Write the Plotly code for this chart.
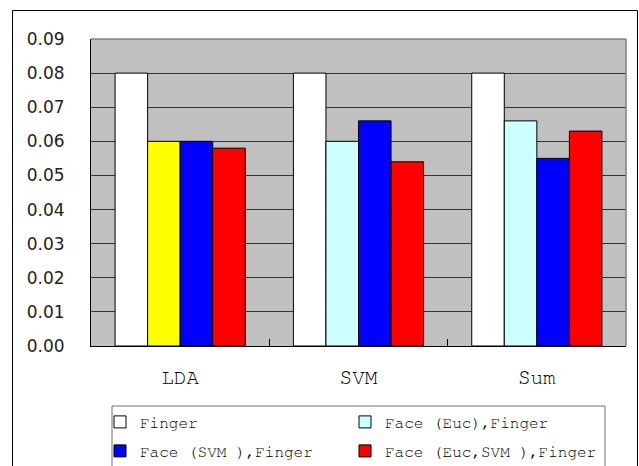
import plotly.graph_objects as go

# ---- data ----
categories = ["LDA", "SVM", "Sum"]
series_names = ["Finger", "Face (Euc),Finger", "Face (SVM ),Finger", "Face (Euc,SVM ),Finger"]
finger = [0.080, 0.080, 0.080]
face_euc = [0.060, 0.060, 0.066]
face_svm = [0.060, 0.066, 0.055]
face_euc_svm = [0.058, 0.054, 0.063]
series_colors = ["#FFFFFF", "#CCFFFF", "#0000FF", "#FF0000"]
lda_highlight_color = "#FFFF00"   # the LDA bar of "Face (Euc),Finger" is drawn yellow
y_ticks = [0.00, 0.01, 0.02, 0.03, 0.04, 0.05, 0.06, 0.07, 0.08, 0.09]

W, H = 639, 466
L, R, T, B = 91, 13, 39, 120
pw, ph = W - L - R, H - T - B

def px_x(x):
    return (x - L) / pw

def px_y(y):
    return (H - B - y) / ph

fig = go.Figure()

series_values = [finger, face_euc, face_svm, face_euc_svm]
legend_ids = ["legend", "legend2", "legend3", "legend4"]
for i, (name, vals, col) in enumerate(zip(series_names, series_values, series_colors)):
    if i == 1:
        # put a cyan bar first so the legend swatch uses the series colour
        xs = categories[1:] + categories[:1]
        ys = vals[1:] + vals[:1]
        cols = [col, col, lda_highlight_color]
    else:
        xs = categories
        ys = vals
        cols = col
    fig.add_trace(go.Bar(
        x=xs, y=ys, name=name,
        marker=dict(color=cols, line=dict(color="#000000", width=1)),
        legend=legend_ids[i], showlegend=True,
    ))

mono = "FreeMono, Courier New, monospace"
legend_font = dict(family=mono, size=16, color="#000000")

def leg(xpx, ypx):
    return dict(orientation="v", x=px_x(xpx), y=px_y(ypx), xanchor="left", yanchor="top",
                font=legend_font, bgcolor="rgba(0,0,0,0)", borderwidth=0, visible=True)

fig.update_layout(
    width=W, height=H,
    showlegend=True,
    margin=dict(l=L, r=R, t=T, b=B, pad=0, autoexpand=False),
    paper_bgcolor="#FFFFFF",
    plot_bgcolor="#C0C0C0",
    barmode="group",
    bargap=0.27,
    bargroupgap=0,
    font=dict(family="DejaVu Sans", size=16, color="#222222"),
    legend=leg(100, 405),
    legend2=leg(345, 405),
    legend3=leg(100, 434),
    legend4=leg(345, 434),
    xaxis=dict(
        type="category", categoryorder="array", categoryarray=categories,
        showgrid=False, showline=True, linecolor="#000000", linewidth=1,
        ticks="inside", tickson="boundaries", ticklen=7, tickcolor="#000000", tickwidth=1,
        ticklabelstandoff=12,
        tickfont=dict(family=mono, size=21, color="#000000"),
        range=[-0.5, 2.5],
    ),
    yaxis=dict(
        range=[0, 0.09], tickvals=y_ticks, tickformat=".2f",
        showgrid=True, gridcolor="#333333", gridwidth=1,
        showline=True, linecolor="#000000", linewidth=1,
        ticks="", ticklabelstandoff=22,
        zeroline=False,
        tickfont=dict(family="DejaVu Sans", size=17, color="#222222"),
    ),
    shapes=[
        # plot-area border (top and right)
        dict(type="line", xref="paper", yref="paper", x0=0, x1=1, y0=1, y1=1,
             line=dict(color="#808080", width=1.5)),
        dict(type="line", xref="paper", yref="paper", x0=1, x1=1, y0=0, y1=1,
             line=dict(color="#808080", width=1.5)),
        # legend box
        dict(type="rect", xref="paper", yref="paper",
             x0=px_x(112), x1=px_x(605), y0=px_y(406), y1=px_y(490),
             line=dict(color="#707070", width=1), fillcolor="rgba(0,0,0,0)"),
        # chart outer frame
        dict(type="rect", xref="paper", yref="paper",
             x0=px_x(12.5), x1=px_x(637.5), y0=px_y(10.5), y1=px_y(500),
             line=dict(color="#000000", width=1), fillcolor="rgba(0,0,0,0)"),
    ],
)

fig.write_html("out.html")
